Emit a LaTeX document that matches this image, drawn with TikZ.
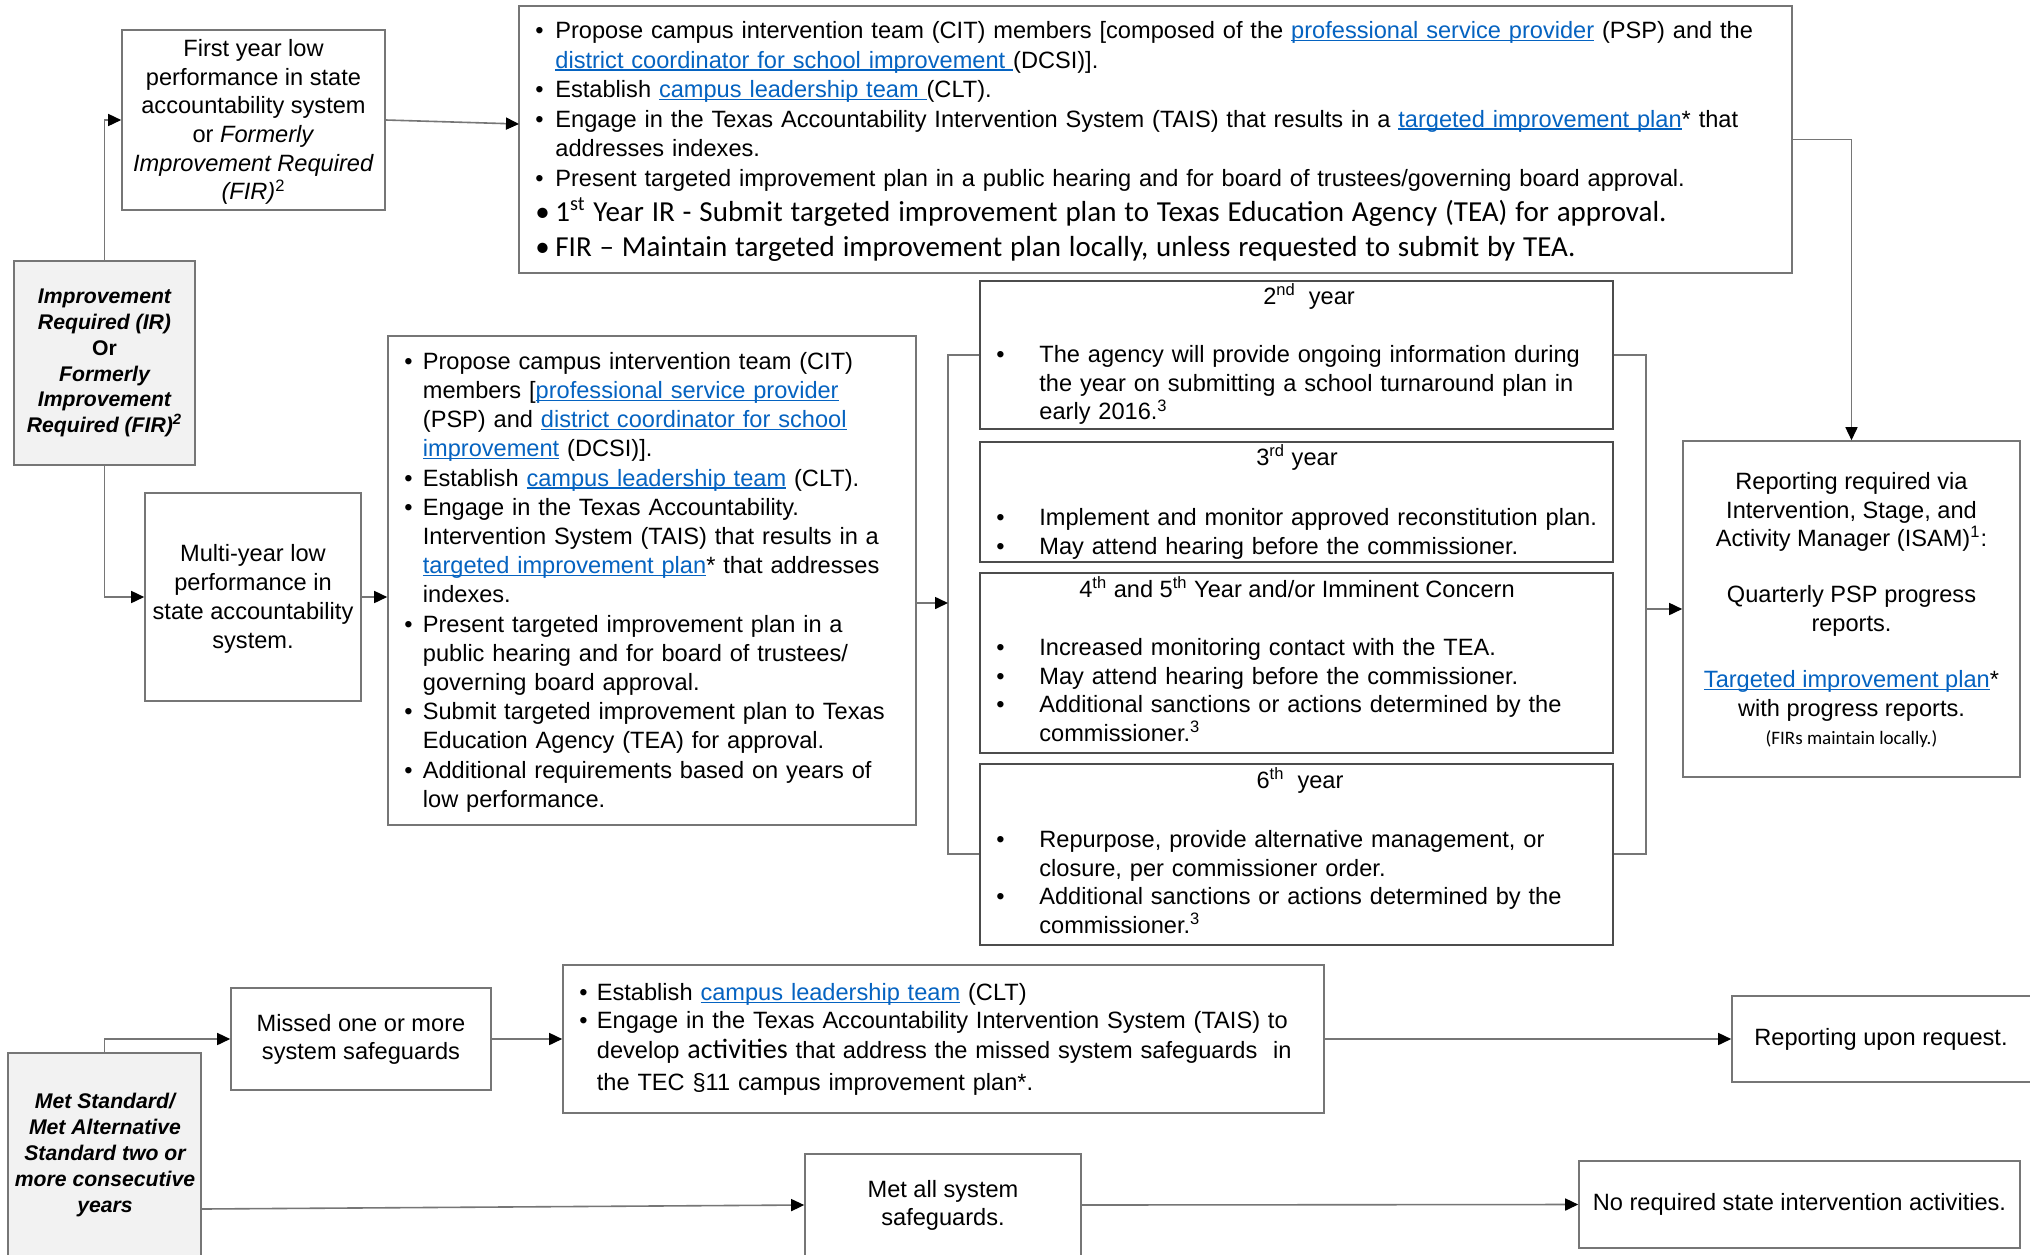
\documentclass[tikz,border=0pt]{standalone}
\usepackage{fontspec}
\setmainfont{Liberation Sans}
\newfontfamily\calfont{Carlito}
\usetikzlibrary{arrows.meta,fit}
\definecolor{linkblue}{RGB}{5,99,193}
\definecolor{edge}{RGB}{118,118,118}
\definecolor{irfill}{RGB}{242,242,242}
\newsavebox\lnkbox
\newcommand{\lnk}[1]{\textcolor{linkblue}{\sbox\lnkbox{#1}\rlap{\rule[-1.3pt]{\wd\lnkbox}{0.6pt}}\usebox\lnkbox}}
\newcommand{\bul}[2]{\par\noindent\hangindent=#1\hangafter=1\makebox[#1][l]{\textbullet}#2\par}
\begin{document}
\begin{tikzpicture}[x=0.5pt,y=-0.5pt,
  font=\fontsize{11.8}{14.5}\selectfont,
  box/.style={draw=edge, line width=0.8pt, inner sep=0pt},
  ybox/.style={draw=black!70, line width=0.6pt, inner sep=0pt},
  conn/.style={draw=edge, line width=0.8pt, -{Triangle[length=6.5pt,width=6pt,color=black,fill=black]}},
  ln/.style={draw=edge, line width=0.8pt},
  txt/.style={inner sep=0pt, align=left, anchor=base west},
  ctr/.style={inner sep=0pt, align=center},
  ttl/.style={inner sep=0pt, anchor=base},
  bi/.style={font=\bfseries\itshape\fontsize{10.6}{12.9}\selectfont, inner sep=0pt, align=center}
  ]
\useasboundingbox (0,0) rectangle (2030,1254);
\fill[white] (0,0) rectangle (2030,1254);

% ---- top row ----
\node[box, fit={(122,30) (385,210)}] (first) {};
\node[ctr, font=\fontsize{11.8}{14.35}\selectfont] (firstt) at ([yshift=-1pt]first.center) {First year low\\performance in state\\accountability system\\or \textit{Formerly}\\\textit{Improvement Required}\\\textit{(FIR)}\textsuperscript{2}};

\node[box, fill=irfill, fit={(14,261) (195,465)}] (ir) {};
\node[bi] (irt) at (ir.center) {Improvement\\Required (IR)\\{\upshape Or}\\Formerly\\Improvement\\Required (FIR)\textsuperscript{2}};

\node[box, fit={(519,6) (1792,273)}] (top) {};
\node[txt, text width=640pt, font=\fontsize{11.8}{14.75}\selectfont] (toptxt) at (535,9) {%
\bul{10pt}{Propose campus intervention team (CIT) members [composed of the \lnk{professional service provider} (PSP) and the\newline\lnk{district coordinator for school improvement }(DCSI)].}
\bul{10pt}{Establish \lnk{campus leadership team }(CLT).}
\bul{10pt}{Engage in the Texas Accountability Intervention System (TAIS) that results in a \lnk{targeted improvement plan}* that\newline addresses indexes.}
\bul{10pt}{Present targeted improvement plan in a public hearing and for board of trustees/governing board approval.}
{\calfont\fontsize{14.5}{17.5}\selectfont
\bul{10pt}{1\textsuperscript{st} Year IR - Submit targeted improvement plan to Texas Education Agency (TEA) for approval.}
\bul{10pt}{FIR – Maintain targeted improvement plan locally, unless requested to submit by TEA.}\par}};

% ---- middle ----
\node[box, fit={(145,493) (361,701)}] (multi) {};
\node[ctr] (multit) at ([yshift=-1pt]multi.center) {Multi-year low\\performance in\\state accountability\\system.};

\node[box, fit={(388,336) (916,825)}] (mid) {};
\node[txt, text width=260pt, font=\fontsize{11.8}{14.6}\selectfont] (midtxt) at (404,340) {%
\bul{9.25pt}{Propose campus intervention team (CIT)\newline members [\lnk{professional service provider}\newline (PSP) and \lnk{district coordinator for school}\newline \lnk{improvement} (DCSI)].}
\bul{9.25pt}{Establish \lnk{campus leadership team} (CLT).}
\bul{9.25pt}{Engage in the Texas Accountability.\newline Intervention System (TAIS) that results in a\newline \lnk{targeted improvement plan}* that addresses\newline indexes.}
\bul{9.25pt}{Present targeted improvement plan in a\newline public hearing and for board of trustees/\newline governing board approval.}
\bul{9.25pt}{Submit targeted improvement plan to Texas\newline Education Agency (TEA) for approval.}
\bul{9.25pt}{Additional requirements based on years of\newline low performance.}};

% ---- year boxes ----
\node[ybox, fit={(980,281) (1613,429)}] (y2) {};
\node[ttl] (y2t) at (1309,304) {2\textsuperscript{nd}\ \ year};
\node[txt, text width=320pt, font=\fontsize{11.8}{14.3}\selectfont] (y2b) at (996,334) {%
\bul{21.5pt}{The agency will provide ongoing information during\newline the year on submitting a school turnaround plan in\newline early 2016.\textsuperscript{3}}};

\node[ybox, fit={(980,442) (1613,562)}] (y3) {};
\node[ttl] (y3t) at (1297,465) {3\textsuperscript{rd} year};
\node[txt, text width=320pt, font=\fontsize{11.8}{14.3}\selectfont] (y3b) at (996,497) {%
\bul{21.5pt}{Implement and monitor approved reconstitution plan.}
\bul{21.5pt}{May attend hearing before the commissioner.}};

\node[ybox, fit={(980,573) (1613,753)}] (y4) {};
\node[ttl] (y4t) at (1297,597) {4\textsuperscript{th} and 5\textsuperscript{th} Year and/or Imminent Concern};
\node[txt, text width=320pt, font=\fontsize{11.8}{14.3}\selectfont] (y4b) at (996,627) {%
\bul{21.5pt}{Increased monitoring contact with the TEA.}
\bul{21.5pt}{May attend hearing before the commissioner.}
\bul{21.5pt}{Additional sanctions or actions determined by the\newline commissioner.\textsuperscript{3}}};

\node[ybox, fit={(980,764) (1613,945)}] (y6) {};
\node[ttl] (y6t) at (1300,788) {6\textsuperscript{th}\ \ year};
\node[txt, text width=320pt, font=\fontsize{11.8}{14.3}\selectfont] (y6b) at (996,819) {%
\bul{21.5pt}{Repurpose, provide alternative management, or\newline closure, per commissioner order.}
\bul{21.5pt}{Additional sanctions or actions determined by the\newline commissioner.\textsuperscript{3}}};

% ---- reporting ----
\node[box, fit={(1683,441) (2020,777)}] (rep) {};
\node[ctr, font=\fontsize{11.8}{14.2}\selectfont] (rept) at ([yshift=-0.5pt]rep.center) {Reporting required via\\Intervention, Stage, and\\Activity Manager (ISAM)\textsuperscript{1}:\\[14pt]Quarterly PSP progress\\reports.\\[14pt]\lnk{Targeted improvement plan}*\\with progress reports.\\{\calfont\fontsize{9.5}{11}\selectfont (FIRs maintain locally.)}};

% ---- bottom ----
\node[box, fill=irfill, fit={(8,1053) (201,1365)}] (met) {};
\node[bi, font=\bfseries\itshape\fontsize{10.6}{13}\selectfont] (mett) at (105,1155) {Met Standard/\\Met Alternative\\Standard two or\\more consecutive\\years};

\node[box, fit={(231,988) (491,1090)}] (missed) {};
\node[ctr, font=\fontsize{11.8}{14}\selectfont] (missedt) at (missed.center) {Missed one or more\\system safeguards};

\node[box, fit={(563,965) (1324,1113)}] (clt) {};
\node[txt, text width=370pt, font=\fontsize{11.8}{14.2}\selectfont] (clttxt) at (579,972) {%
\bul{8.75pt}{Establish \lnk{campus leadership team} (CLT)}
\bul{8.75pt}{Engage in the Texas Accountability Intervention System (TAIS) to\vadjust{\vskip0.8pt}\newline develop {\calfont\fontsize{14}{14}\selectfont activities} that address the missed system safeguards\ \ in\vadjust{\vskip1.8pt}\newline the TEC §11 campus improvement plan*.}};

\node[box, fit={(1732,996) (2040,1082)}] (req) {};
\node[inner sep=0pt] (reqt) at (1881,1039) {Reporting upon request.};

\node[box, fit={(805,1154) (1081,1256)}] (metall) {};
\node[ctr, font=\fontsize{11.8}{14}\selectfont] (metallt) at (943,1205) {Met all system\\safeguards.};

\node[box, fit={(1579,1161) (2020,1248)}] (noreq) {};
\node[inner sep=0pt] (noreqt) at (noreq.center) {No required state intervention activities.};

% ---- connectors ----
\coordinate (t1) at (519,124);
\coordinate (bl1) at (948,355);
\coordinate (bl2) at (948,854);
\coordinate (blm) at (948,603);
\coordinate (br1) at (1646,355);
\coordinate (br2) at (1646,854);

\draw[conn] (ir.north) |- (first.west);
\draw[conn] (ir.south) |- (multi.west);
\draw[conn] (first.east) -- (t1);
\draw[conn] (multi.east) -- (multi.east -| mid.west);
\draw[ln] (y2.west |- bl1) -- (bl1) -- (bl2) -- (y6.west |- bl2);
\draw[conn] (mid.east |- blm) -- (blm);
\draw[ln] (y2.east |- br1) -- (br1) -- (br2) -- (y6.east |- br2);
\draw[conn] (rep.west -| br1) -- (rep.west);
\draw[conn] (top.east) -| (rep.north);
\draw[conn] (met.north) |- (missed.west);
\draw[conn] (missed.east) -- (clt.west);
\draw[conn] (clt.east) -- (req.west);
\draw[conn] (met.east) -- (metall.west);
\draw[conn] (metall.east) -- (noreq.west);
\end{tikzpicture}
\end{document}
